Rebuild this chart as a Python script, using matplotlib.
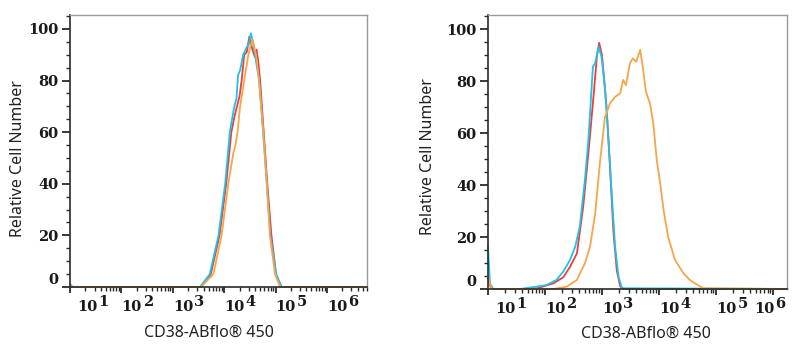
import matplotlib
matplotlib.use("Agg")
import matplotlib.pyplot as plt
import matplotlib.transforms as mtransforms
from matplotlib.ticker import LogLocator, NullFormatter, MultipleLocator
import numpy as np

# ---------------- data (x as log10 of fluorescence intensity) ----------------
left_red_x = [1.0, 3.55, 3.74, 3.91, 4.04, 4.14, 4.20, 4.25, 4.30, 4.34, 4.39, 4.44,
              4.49, 4.55, 4.60, 4.63, 4.66, 4.70, 4.77, 4.84, 4.92, 5.01, 5.11, 6.78]
left_red_y = [0, 0, 5, 20, 40, 60, 66, 70, 74, 80, 90, 91,
              97, 92, 89, 92, 88, 80, 60, 40, 20, 5, 0, 0]

left_cyan_x = [1.0, 1.03, 1.06, 3.53, 3.72, 3.89, 4.02, 4.11, 4.18, 4.21, 4.24, 4.27,
               4.31, 4.37, 4.44, 4.48, 4.52, 4.56, 4.60, 4.68, 4.76, 4.83, 4.90, 5.01,
               5.12, 6.78]
left_cyan_y = [1.2, 0.4, 0, 0, 5, 20, 40, 60, 68, 71, 73, 82,
               84, 90, 93, 94, 98.3, 95, 90, 80, 60, 40, 20, 5,
               0, 0]

left_orange_x = [1.0, 3.55, 3.79, 3.95, 4.08, 4.18, 4.22, 4.26, 4.31, 4.39, 4.47, 4.55,
                 4.62, 4.68, 4.76, 4.83, 4.89, 4.99, 5.09, 6.78]
left_orange_y = [0, 0, 5, 20, 40, 52, 55, 60, 70, 80, 90, 96,
                 90, 80, 60, 40, 20, 5, 0, 0]

right_red_x = [1.0, 1.04, 1.09, 1.6, 1.85, 2.15, 2.32, 2.44, 2.56, 2.67, 2.76, 2.85,
               2.91, 2.95, 3.0, 3.08, 3.14, 3.2, 3.26, 3.32, 3.38, 6.25]
right_red_y = [4, 1, 0, 0, 0.2, 2.2, 4.5, 8.6, 13.7, 31.7, 52, 74,
               89.5, 94.8, 90, 70, 47, 22, 7, 1, 0, 0]

right_cyan_x = [1.0, 1.035, 1.09, 1.56, 1.85, 2.03, 2.2, 2.32, 2.44, 2.53, 2.61, 2.70,
                2.76, 2.84, 2.88, 2.94, 2.99, 3.05, 3.11, 3.17, 3.23, 3.29, 3.35, 6.25]
right_cyan_y = [16.3, 2.2, 0, 0, 0.9, 1.5, 3.5, 6.7, 11.2, 16.3, 24, 42,
                57, 85.6, 87, 93.3, 89.5, 78, 58.6, 36.8, 16.3, 4.7, 0.3, 0]

right_orange_x = [1.0, 1.03, 1.07, 2.15, 2.38, 2.56, 2.70, 2.79, 2.88, 2.96, 3.05, 3.08,
                  3.14, 3.23, 3.32, 3.37, 3.42, 3.49, 3.54, 3.60, 3.67, 3.72, 3.77, 3.84,
                  3.90, 3.96, 4.02, 4.08, 4.16, 4.28, 4.43, 4.54, 4.64, 4.78, 6.25]
right_orange_y = [4.7, 2, 0, 0, 0.9, 3.5, 9.9, 16.3, 29, 48, 66, 67.7,
                  71.5, 74, 75.4, 80.5, 78.5, 86.9, 88.8, 87.5, 92.1, 84.7, 76, 71.5,
                  63.8, 49.7, 40.7, 30.4, 20, 11.2, 6, 3.5, 2, 0.3, 0]

decades = [1, 2, 3, 4, 5, 6]
y_ticks = [0, 20, 40, 60, 80, 100]
x_label = "CD38-ABflo® 450"
y_label = "Relative Cell Number"

RED = "#ee3b3b"
CYAN = "#1dc3ec"
ORANGE = "#f7a54a"

SERIF = "DejaVu Serif"
SANS = "Noto Sans"
TICK_SIZE = 10.5

fig = plt.figure(figsize=(8, 3.5), dpi=100)


def px(x0, y0, x1, y1):
    W, H = 800, 350
    return [x0 / W, 1 - y1 / H, (x1 - x0) / W, (y1 - y0) / H]


def setup(ax, xmax_exp, ymax, xlabel_pos, ylabel_pos):
    ax.set_xscale("log")
    ax.set_xlim(10 ** 1, 10 ** xmax_exp)
    ax.set_ylim(0, ymax)
    for s in ("top", "right"):
        ax.spines[s].set_color("#9a9a9a")
        ax.spines[s].set_linewidth(1.0)
    for s in ("left", "bottom"):
        ax.spines[s].set_color("#2a2a2a")
        ax.spines[s].set_linewidth(1.2)
    ax.tick_params(top=False, right=False)
    ax.yaxis.set_minor_locator(MultipleLocator(5))
    ax.set_yticks(y_ticks)
    ax.set_yticklabels([str(v) for v in y_ticks], fontfamily=SERIF,
                       fontweight="bold", fontsize=TICK_SIZE, color="#1a1a1a")
    ax.get_yticklabels()[0].set_va("bottom")
    ax.tick_params(axis="y", which="major", length=5.5, width=1.3,
                   color="#2a2a2a", pad=3)
    ax.tick_params(axis="y", which="minor", length=3.2, width=1.0,
                   color="#2a2a2a")
    ax.xaxis.set_major_locator(LogLocator(base=10, numticks=20))
    ax.xaxis.set_minor_locator(LogLocator(base=10, subs=np.arange(2, 10),
                                          numticks=20))
    ax.xaxis.set_minor_formatter(NullFormatter())
    ax.set_xticks([10.0 ** d for d in decades])
    ax.set_xticklabels([""] * len(decades))
    ax.tick_params(axis="x", which="major", length=4.5, width=1.3,
                   color="#2a2a2a")
    ax.tick_params(axis="x", which="minor", length=2.6, width=1.0,
                   color="#2a2a2a")

    # decade labels "10" with a raised exponent, left-aligned at the tick
    trans = mtransforms.blended_transform_factory(ax.transData, ax.transAxes)
    right_px = ax.get_window_extent().x1
    renderer = fig.canvas.get_renderer()
    for i, d in enumerate(decades):
        dx = 7 if i == 0 else 0
        base = ax.text(10.0 ** d, 0, "10", transform=mtransforms.offset_copy(
            trans, fig=fig, x=dx, y=-24, units="dots"),
            ha="left", va="baseline", fontfamily=SERIF, fontweight="bold",
            fontsize=TICK_SIZE, color="#1a1a1a")
        bb = base.get_window_extent(renderer)
        total = bb.width + 10
        shift = 0
        if bb.x0 + total > right_px - 3:
            shift = (right_px - 3) - (bb.x0 + total)
            base.set_transform(mtransforms.offset_copy(
                trans, fig=fig, x=dx + shift, y=-24, units="dots"))
        ax.text(10.0 ** d, 0, str(d), transform=mtransforms.offset_copy(
            trans, fig=fig, x=dx + shift + bb.width + 1, y=-19, units="dots"),
            ha="left", va="baseline", fontfamily=SERIF, fontweight="bold",
            fontsize=TICK_SIZE, color="#1a1a1a")

    ax.set_xlabel(x_label, fontfamily=SANS, fontsize=11.5, color="#222222")
    ax.xaxis.set_label_coords(*xlabel_pos)
    ax.set_ylabel(y_label, fontfamily=SANS, fontsize=11.5, color="#222222",
                  va="center")
    ax.yaxis.set_label_coords(*ylabel_pos)


def draw(ax, series):
    for xs, ys, c in series:
        ax.plot(10.0 ** np.asarray(xs), ys, color=c, lw=1.3, clip_on=False,
                solid_joinstyle="round")


ax1 = fig.add_axes(px(70, 15, 367, 287))
ax2 = fig.add_axes(px(488, 15, 787, 289))

setup(ax1, 6.78, 105.4, (0.468, -0.14), (-0.175, 0.474))
setup(ax2, 6.245, 105.5, (0.528, -0.133), (-0.2, 0.482))

draw(ax1, [(left_red_x, left_red_y, RED),
           (left_cyan_x, left_cyan_y, CYAN),
           (left_orange_x, left_orange_y, ORANGE)])
draw(ax2, [(right_red_x, right_red_y, RED),
           (right_cyan_x, right_cyan_y, CYAN),
           (right_orange_x, right_orange_y, ORANGE)])

fig.savefig("out.png", dpi=100)
